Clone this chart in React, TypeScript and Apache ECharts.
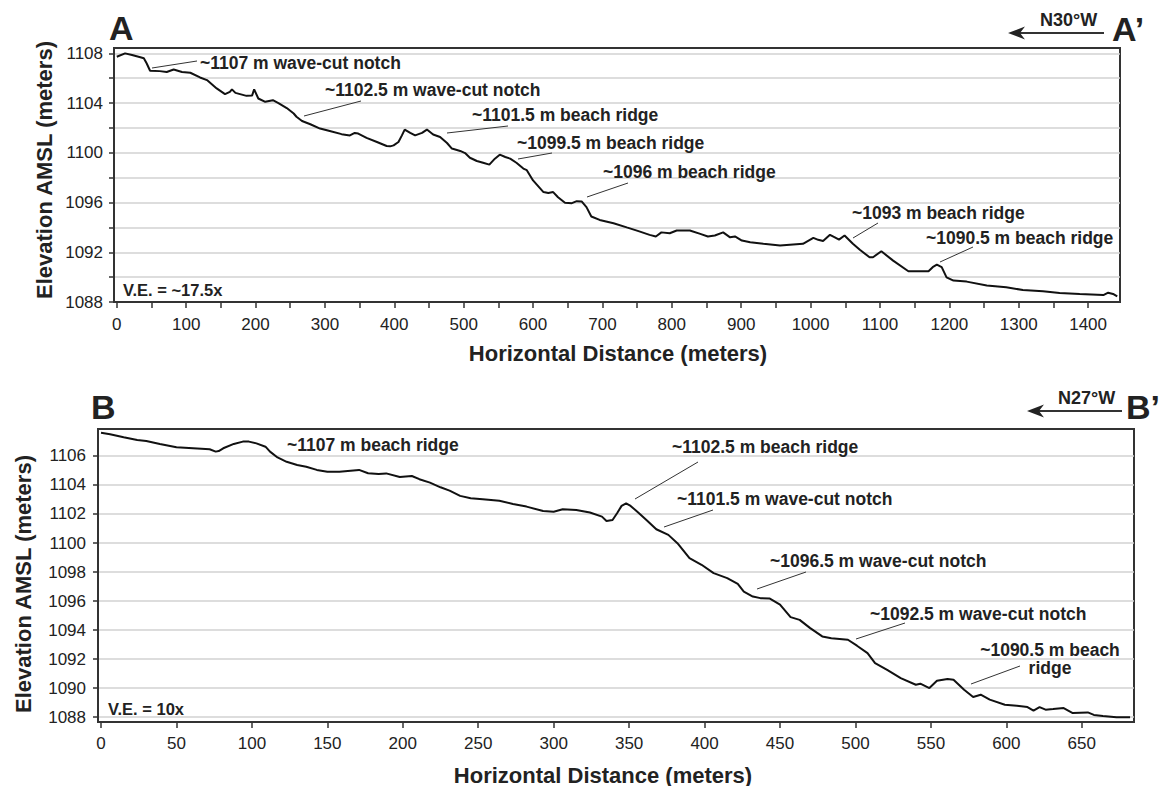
import React, { useEffect, useRef } from 'react';
import * as echarts from 'echarts';

// ---------- Profile A–A' ----------
const topDist = [0, 12, 22, 34, 39, 43, 48, 62, 72, 82, 94, 106, 120, 130, 144, 156, 163, 166, 171, 187, 195, 198, 204, 214, 225, 233, 245, 255, 259, 267, 279, 293, 307, 324, 336, 343, 348, 360, 375, 389, 394, 399, 406, 411, 415, 423, 430, 440, 447, 456, 466, 476, 483, 495, 502, 509, 519, 528, 537, 545, 552, 560, 567, 576, 586, 591, 600, 615, 622, 629, 636, 646, 656, 663, 670, 677, 684, 696, 716, 735, 752, 768, 777, 785, 797, 807, 826, 841, 852, 862, 874, 884, 891, 901, 913, 932, 956, 989, 1004, 1011, 1018, 1028, 1035, 1041, 1049, 1061, 1071, 1085, 1090, 1102, 1119, 1141, 1170, 1176, 1182, 1189, 1196, 1206, 1225, 1254, 1282, 1306, 1335, 1359, 1388, 1422, 1429, 1436, 1442];
const topElev = [1107.73, 1108.0, 1107.86, 1107.68, 1107.6, 1107.2, 1106.6, 1106.57, 1106.5, 1106.7, 1106.5, 1106.44, 1106.06, 1105.85, 1105.18, 1104.72, 1104.9, 1105.1, 1104.82, 1104.58, 1104.6, 1105.1, 1104.37, 1104.1, 1104.23, 1104.0, 1103.6, 1103.16, 1102.9, 1102.56, 1102.3, 1101.95, 1101.76, 1101.5, 1101.4, 1101.6, 1101.55, 1101.2, 1100.87, 1100.55, 1100.52, 1100.6, 1100.87, 1101.4, 1101.87, 1101.6, 1101.4, 1101.6, 1101.87, 1101.47, 1101.27, 1100.79, 1100.34, 1100.15, 1099.98, 1099.6, 1099.34, 1099.2, 1099.05, 1099.53, 1099.85, 1099.66, 1099.53, 1099.2, 1098.73, 1098.6, 1097.78, 1096.84, 1096.76, 1096.84, 1096.43, 1095.98, 1095.95, 1096.11, 1096.09, 1095.63, 1094.88, 1094.6, 1094.34, 1094.0, 1093.7, 1093.4, 1093.27, 1093.6, 1093.53, 1093.75, 1093.75, 1093.48, 1093.27, 1093.35, 1093.6, 1093.2, 1093.27, 1092.94, 1092.8, 1092.68, 1092.54, 1092.68, 1093.16, 1093.0, 1092.9, 1093.4, 1093.2, 1093.02, 1093.35, 1092.68, 1092.2, 1091.6, 1091.6, 1092.08, 1091.33, 1090.47, 1090.47, 1090.8, 1091.0, 1090.8, 1089.98, 1089.72, 1089.64, 1089.32, 1089.18, 1088.97, 1088.86, 1088.73, 1088.65, 1088.56, 1088.75, 1088.65, 1088.45];
const topXTicks = [0, 50, 100, 150, 200, 250, 300, 350, 400, 450, 500, 550, 600, 650, 700, 750, 800, 850, 900, 950, 1000, 1050, 1100, 1150, 1200, 1250, 1300, 1350, 1400];
const topXLabels = [0, 100, 200, 300, 400, 500, 600, 700, 800, 900, 1000, 1100, 1200, 1300, 1400];
const topYTicks = [1088, 1090, 1092, 1094, 1096, 1098, 1100, 1102, 1104, 1106, 1108];
const topYLabels = [1088, 1092, 1096, 1100, 1104, 1108];
const topNotes = [
  '~1107 m wave-cut notch',
  '~1102.5 m wave-cut notch',
  '~1101.5 m beach ridge',
  '~1099.5 m beach ridge',
  '~1096 m beach ridge',
  '~1093 m beach ridge',
  '~1090.5 m beach ridge',
];

// ---------- Profile B–B' ----------
const botDist = [0, 6, 15, 24, 30, 39, 50, 61, 72, 76, 78, 81, 88, 94, 98, 103, 109, 112, 117, 123, 130, 136, 143, 150, 158, 171, 177, 184, 189, 198, 206, 211, 218, 225, 231, 238, 245, 253, 264, 273, 282, 293, 300, 306, 315, 324, 332, 335, 339, 342, 345, 348, 351, 356, 362, 368, 376, 382, 390, 398, 406, 415, 422, 426, 432, 437, 443, 450, 457, 463, 470, 478, 484, 495, 501, 508, 513, 521, 530, 540, 543, 549, 554, 561, 565, 572, 578, 583, 589, 599, 607, 614, 618, 622, 626, 631, 638, 644, 654, 658, 664, 673, 682];
const botElev = [1107.6, 1107.5, 1107.29, 1107.1, 1107.03, 1106.83, 1106.6, 1106.53, 1106.46, 1106.3, 1106.34, 1106.53, 1106.83, 1106.99, 1106.99, 1106.87, 1106.64, 1106.3, 1105.9, 1105.6, 1105.38, 1105.26, 1105.04, 1104.92, 1104.92, 1105.04, 1104.81, 1104.76, 1104.8, 1104.55, 1104.62, 1104.4, 1104.16, 1103.84, 1103.61, 1103.25, 1103.09, 1103.02, 1102.92, 1102.69, 1102.51, 1102.21, 1102.16, 1102.33, 1102.28, 1102.1, 1101.82, 1101.52, 1101.59, 1102.05, 1102.56, 1102.74, 1102.56, 1102.1, 1101.54, 1100.95, 1100.56, 1099.99, 1098.95, 1098.5, 1097.92, 1097.58, 1097.18, 1096.65, 1096.31, 1096.2, 1096.18, 1095.75, 1094.89, 1094.7, 1094.13, 1093.56, 1093.44, 1093.33, 1092.92, 1092.41, 1091.72, 1091.26, 1090.69, 1090.23, 1090.3, 1090.0, 1090.5, 1090.62, 1090.57, 1089.88, 1089.38, 1089.54, 1089.2, 1088.85, 1088.78, 1088.69, 1088.44, 1088.69, 1088.51, 1088.55, 1088.62, 1088.28, 1088.32, 1088.15, 1088.08, 1087.98, 1087.98];
const botXTicks = [0, 50, 100, 150, 200, 250, 300, 350, 400, 450, 500, 550, 600, 650];
const botYTicks = [1088, 1090, 1092, 1094, 1096, 1098, 1100, 1102, 1104, 1106];
const botNotes = [
  '~1107 m beach ridge',
  '~1102.5 m beach ridge',
  '~1101.5 m wave-cut notch',
  '~1096.5 m wave-cut notch',
  '~1092.5 m wave-cut notch',
  '~1090.5 m beach\nridge',
];

const FONT = '"Liberation Sans", Arial, Helvetica, sans-serif';
const INK = '#222';

function zip(a: number[], b: number[]) {
  return a.map((v, i) => [v, b[i]]);
}

const plain = (v: number) => String(v);

function xAxisCfg(grid: number, min: number, max: number, ticks: number[], labels: number[], margin: number) {
  return {
    type: 'value',
    gridIndex: grid,
    min,
    max,
    axisLine: { show: true, onZero: false, lineStyle: { color: '#333', width: 2 } },
    axisTick: { show: true, length: 6, lineStyle: { color: '#333', width: 1.5 }, customValues: ticks },
    axisLabel: { customValues: labels, formatter: plain, color: INK, fontSize: 17, fontFamily: FONT, margin },
    splitLine: { show: false },
  };
}

function yAxisCfg(grid: number, min: number, max: number, ticks: number[], labels: number[], margin: number) {
  return {
    type: 'value',
    gridIndex: grid,
    min,
    max,
    axisLine: { show: true, onZero: false, lineStyle: { color: '#333', width: 2 } },
    axisTick: { show: true, length: 5, lineStyle: { color: '#333', width: 1.5 }, customValues: ticks },
    axisLabel: { customValues: labels, formatter: plain, color: INK, fontSize: 17, fontFamily: FONT, margin },
    splitLine: { show: true, lineStyle: { color: '#d2d2d2', width: 1.5 } },
  };
}

function txt(text: string, x: number, y: number, size: number, opts: any = {}) {
  return {
    type: 'text',
    x,
    y,
    rotation: opts.rotation || 0,
    silent: true,
    z: 10,
    style: {
      text,
      fill: opts.fill || INK,
      fontSize: size,
      fontWeight: 'bold',
      fontFamily: FONT,
      align: opts.align || 'left',
      verticalAlign: 'middle',
    },
  };
}

function seg(x1: number, y1: number, x2: number, y2: number, w = 1) {
  return { type: 'line', silent: true, z: 10, shape: { x1, y1, x2, y2 }, style: { stroke: '#333', lineWidth: w } };
}

function arrow(x1: number, x2: number, y: number) {
  return [
    seg(x1 + 10, y, x2, y, 2),
    {
      type: 'polygon',
      silent: true,
      z: 10,
      shape: { points: [[x1, y], [x1 + 17, y - 6.5], [x1 + 12, y], [x1 + 17, y + 6.5]] },
      style: { fill: '#222' },
    },
  ];
}

export default function App() {
  const ref = useRef<HTMLDivElement>(null);

  useEffect(() => {
    const chart = echarts.init(ref.current!, null, { renderer: 'svg' });
    const lastLines = botNotes[5].split('\n');

    const graphics: any[] = [
      // Panel titles
      txt('A', 109, 28, 34),
      txt('A’', 1112, 29, 34),
      txt('N30°W', 1040, 20, 18),
      ...arrow(1008, 1104, 33),
      txt('B', 91, 407, 34),
      txt('B’', 1126, 407, 34),
      txt('N27°W', 1058, 398, 18),
      ...arrow(1027, 1122, 411),
      // Axis titles
      txt('Elevation AMSL (meters)', 44, 170, 22, { rotation: Math.PI / 2, align: 'center' }),
      txt('Horizontal Distance (meters)', 618, 353, 22, { align: 'center' }),
      txt('Elevation AMSL (meters)', 23, 584, 22, { rotation: Math.PI / 2, align: 'center' }),
      txt('Horizontal Distance (meters)', 603, 775, 22, { align: 'center' }),
      // V.E.
      txt('V.E. = ~17.5x', 123, 290, 16.5),
      txt('V.E. = 10x', 108, 709, 16.5),
      // Top annotations
      txt(topNotes[0], 200, 63, 17.5),
      seg(152, 68, 197, 61),
      txt(topNotes[1], 325, 90, 17.5),
      seg(304, 116, 361, 101),
      txt(topNotes[2], 472, 115, 17.5),
      seg(447, 133, 508, 126),
      txt(topNotes[3], 517, 143, 17.5),
      seg(518, 159, 552, 153),
      txt(topNotes[4], 603, 172, 17.5),
      seg(587, 197, 628, 183),
      txt(topNotes[5], 852, 213, 17.5),
      seg(853, 238, 878, 223),
      txt(topNotes[6], 926, 238, 17.5),
      seg(940, 262, 973, 247),
      // Bottom annotations
      txt(botNotes[0], 287, 445, 17.5),
      txt(botNotes[1], 672, 447, 17.5),
      seg(635, 499, 698, 462),
      txt(botNotes[2], 677, 499, 17.5),
      seg(664, 527, 713, 510),
      txt(botNotes[3], 770, 561, 17.5),
      seg(757, 589, 806, 572),
      txt(botNotes[4], 870, 614, 17.5),
      seg(856, 639, 905, 623),
      txt(lastLines[0], 1050, 650, 17.5, { align: 'center' }),
      txt(lastLines[1], 1050, 668, 17.5, { align: 'center' }),
      seg(971, 684, 1020, 666),
    ];

    chart.setOption({
      animation: false,
      backgroundColor: '#ffffff',
      grid: [
        { left: 114, top: 48, width: 1006, height: 254, show: true, borderColor: '#333', borderWidth: 2, backgroundColor: 'transparent' },
        { left: 98, top: 429, width: 1036, height: 293, show: true, borderColor: '#333', borderWidth: 2, backgroundColor: 'transparent' },
      ],
      xAxis: [
        xAxisCfg(0, -4, 1446, topXTicks, topXLabels, 14),
        xAxisCfg(1, -2, 684.6, botXTicks, botXTicks, 13),
      ],
      yAxis: [
        yAxisCfg(0, 1088, 1108.43, topYTicks, topYLabels, 11),
        yAxisCfg(1, 1087.66, 1107.86, botYTicks, botYTicks, 12),
      ],
      series: [
        {
          type: 'line',
          xAxisIndex: 0,
          yAxisIndex: 0,
          data: zip(topDist, topElev),
          showSymbol: false,
          symbol: 'none',
          lineStyle: { color: '#111', width: 2 },
          z: 5,
        },
        {
          type: 'line',
          xAxisIndex: 1,
          yAxisIndex: 1,
          data: zip(botDist, botElev),
          showSymbol: false,
          symbol: 'none',
          lineStyle: { color: '#111', width: 2 },
          z: 5,
        },
      ],
      graphic: graphics,
    });

    return () => chart.dispose();
  }, []);

  return (
    <div
      ref={ref}
      style={{ position: 'fixed', left: 0, top: 0, width: 1162, height: 786, background: '#fff' }}
    />
  );
}
